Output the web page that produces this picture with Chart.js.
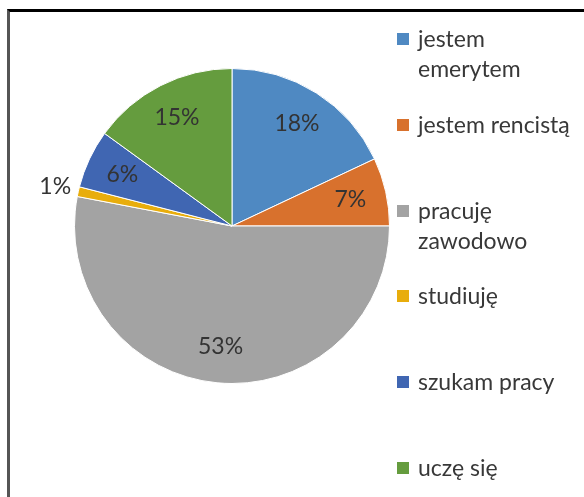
<!DOCTYPE html>
<html>
<head>
<meta charset="utf-8">
<script src="https://cdn.jsdelivr.net/npm/chart.js@4/dist/chart.umd.min.js"></script>
<style>
  html, body { margin: 0; padding: 0; background: #fff; overflow: hidden; }
  #wrap { position: relative; width: 584px; height: 497px; }
  #frame {
    position: absolute; left: 7px; top: 9px; width: 620px; height: 540px;
    border-top: 3px solid #000; border-left: 3px solid #555;
  }
  #chart { position: absolute; left: 0; top: 0; }
  .legend-item {
    position: absolute; left: 397px;
    font-family: Lato, "Open Sans", sans-serif; font-size: 23px; line-height: 30px;
    color: #383838; white-space: pre-line;
  }
  .legend-item .box {
    position: absolute; left: 0; top: 10px; width: 12px; height: 12px;
  }
  .legend-item .txt { margin-left: 21px; }
</style>
</head>
<body>
<div id="wrap">
  <div id="frame"></div>
  <canvas id="chart" width="584" height="497"></canvas>
  <div id="legend"></div>
</div>
<script>
// Answers (share of respondents, %)
const categories = ["jestem\nemerytem", "jestem rencistą", "pracuję\nzawodowo", "studiuję", "szukam pracy", "uczę się"];
const shares = [18, 7, 53, 1, 6, 15];
const sliceColors = ["#4f89c2", "#d8712d", "#a3a3a3", "#e8ad0c", "#4066b2", "#659c3e"];

// percentage labels drawn on (or just outside) each slice
const sliceLabels = {
  id: "sliceLabels",
  afterDatasetsDraw(chart) {
    const ctx = chart.ctx;
    const arcs = chart.getDatasetMeta(0).data;
    ctx.save();
    ctx.font = "23px Lato, 'Open Sans', sans-serif";
    ctx.fillStyle = "#333333";
    ctx.textAlign = "center";
    ctx.textBaseline = "middle";
    arcs.forEach((arc, i) => {
      const mid = (arc.startAngle + arc.endAngle) / 2;
      const k = shares[i] < 3 ? 1.15 : 0.77;
      const x = arc.x + Math.cos(mid) * arc.outerRadius * k;
      const y = arc.y + Math.sin(mid) * arc.outerRadius * k;
      ctx.fillText(shares[i] + "%", x, y);
    });
    ctx.restore();
  }
};

new Chart(document.getElementById("chart"), {
  type: "pie",
  data: {
    labels: categories,
    datasets: [{
      data: shares,
      backgroundColor: sliceColors,
      borderColor: "#ffffff",
      borderWidth: 1
    }]
  },
  options: {
    responsive: false,
    animation: false,
    layout: { padding: { left: 74, right: 194, top: 68, bottom: 113 } },
    plugins: {
      legend: { display: false },
      tooltip: { enabled: false }
    }
  },
  plugins: [sliceLabels]
});

// legend column on the right
const legend = document.getElementById("legend");
categories.forEach((name, i) => {
  const item = document.createElement("div");
  item.className = "legend-item";
  item.style.top = (23 + i * 85.8) + "px";
  const box = document.createElement("span");
  box.className = "box";
  box.style.background = sliceColors[i];
  const txt = document.createElement("div");
  txt.className = "txt";
  txt.textContent = name;
  item.appendChild(box);
  item.appendChild(txt);
  legend.appendChild(item);
});
</script>
</body>
</html>
